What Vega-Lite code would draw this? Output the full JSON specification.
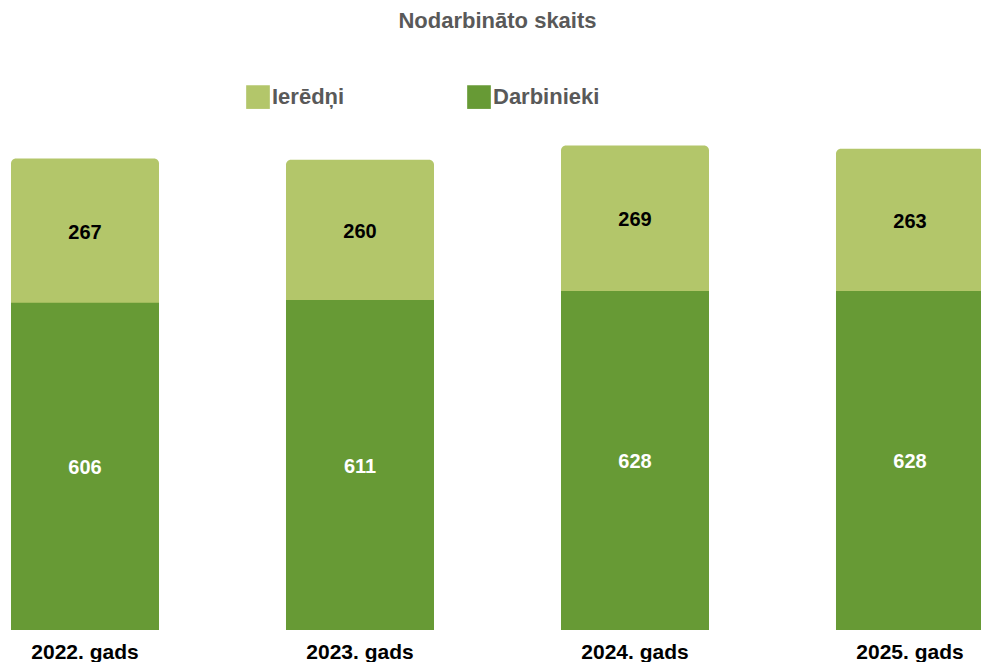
{
  "$schema": "https://vega.github.io/schema/vega-lite/v6.json",
  "autosize": {"type": "none"},
  "padding": {"left": 0, "top": 144, "right": 0, "bottom": 32},
  "width": 995,
  "height": 486,
  "background": "white",
  "config": {
    "view": {"stroke": null},
    "font": "Liberation Sans"
  },
  "title": {
    "text": "Nodarbināto skaits",
    "fontSize": 22,
    "fontWeight": "bold",
    "color": "#595959",
    "anchor": "middle",
    "offset": 52
  },
  "data": {
    "values": [
      {"year": "2022. gads", "grp": "Darbinieki", "value": 606},
      {"year": "2022. gads", "grp": "Ierēdņi", "value": 267},
      {"year": "2023. gads", "grp": "Darbinieki", "value": 611},
      {"year": "2023. gads", "grp": "Ierēdņi", "value": 260},
      {"year": "2024. gads", "grp": "Darbinieki", "value": 628},
      {"year": "2024. gads", "grp": "Ierēdņi", "value": 269},
      {"year": "2025. gads", "grp": "Darbinieki", "value": 628},
      {"year": "2025. gads", "grp": "Ierēdņi", "value": 263}
    ]
  },
  "encoding": {
    "x": {
      "field": "year",
      "type": "nominal",
      "title": null,
      "scale": {"paddingInner": 0.4618, "paddingOuter": 0.04},
      "axis": {
        "labelAngle": 0,
        "labelFontSize": 21,
        "labelFontWeight": "bold",
        "labelColor": "#000000",
        "labelPadding": 11,
        "ticks": false,
        "domain": false,
        "grid": false
      }
    }
  },
  "layer": [
    {
      "mark": {"type": "bar", "color": "#B3C66A", "cornerRadiusTopLeft": 5, "cornerRadiusTopRight": 5},
      "encoding": {
        "y": {"aggregate": "sum", "field": "value", "type": "quantitative", "scale": {"domain": [0, 900]}, "axis": null}
      }
    },
    {
      "transform": [{"filter": "datum.grp === 'Darbinieki'"}],
      "mark": {"type": "bar"},
      "encoding": {
        "y": {"field": "value", "type": "quantitative", "scale": {"domain": [0, 900]}, "axis": null},
        "color": {
          "field": "grp",
          "type": "nominal",
          "scale": {"domain": ["Ierēdņi", "Darbinieki"], "range": ["#B3C66A", "#679A35"]},
          "legend": {
            "title": null,
            "orient": "none",
            "direction": "horizontal",
            "legendX": 246,
            "legendY": -59,
            "symbolType": "square",
            "symbolSize": 560,
            "symbolStrokeWidth": 0,
            "labelFontSize": 22,
            "labelFontWeight": "bold",
            "labelColor": "#595959",
            "labelOffset": 2,
            "columnPadding": 122
          }
        }
      }
    },
    {
      "mark": {"type": "text", "fontSize": 20, "fontWeight": "bold", "baseline": "middle", "dy": 2},
      "encoding": {
        "y": {"field": "value", "type": "quantitative", "stack": "zero", "bandPosition": 0.5, "scale": {"domain": [0, 900]}, "axis": null},
        "detail": {"field": "grp"},
        "text": {"field": "value", "type": "quantitative"},
        "fill": {"condition": {"test": "datum.grp === 'Darbinieki'", "value": "#FFFFFF"}, "value": "#000000"}
      }
    }
  ]
}
